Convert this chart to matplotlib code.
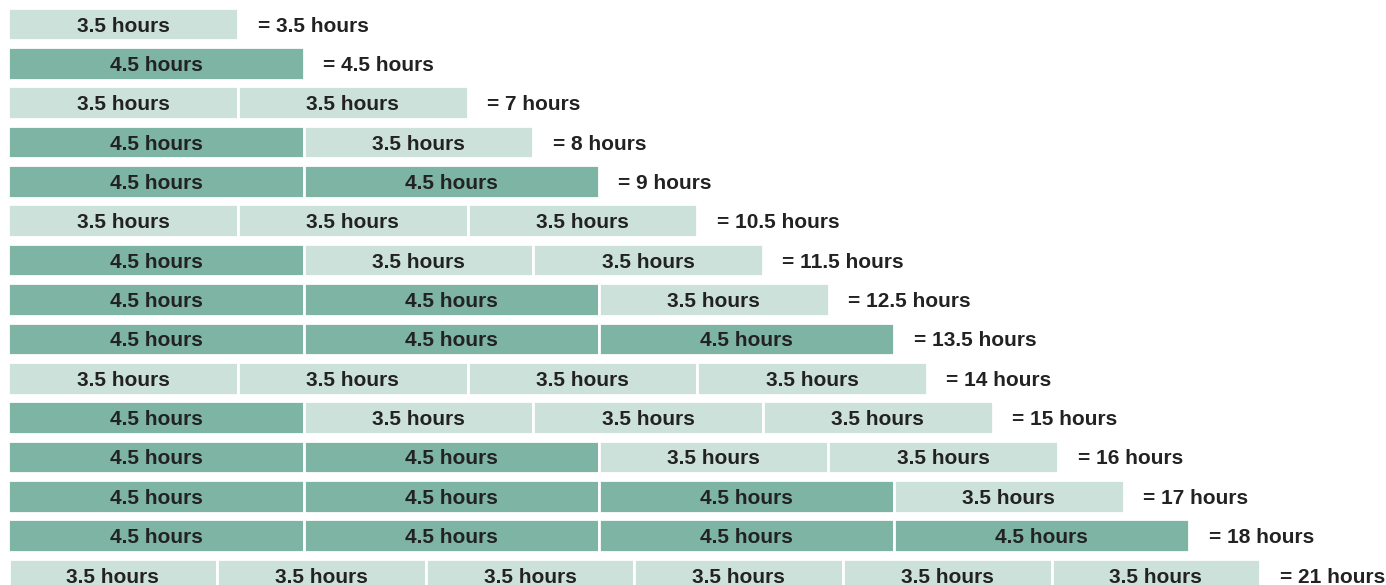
import matplotlib
matplotlib.use("Agg")
import matplotlib.pyplot as plt

plt.rcParams.update({"font.family": ["Liberation Sans", "DejaVu Sans"]})

LIGHT = "#cce1d9"; DARK = "#7db4a3"; INK = "#222222"

# each row: the sessions that add up to the total
segments = [
    [3.5],
    [4.5],
    [3.5, 3.5],
    [4.5, 3.5],
    [4.5, 4.5],
    [3.5, 3.5, 3.5],
    [4.5, 3.5, 3.5],
    [4.5, 4.5, 3.5],
    [4.5, 4.5, 4.5],
    [3.5, 3.5, 3.5, 3.5],
    [4.5, 3.5, 3.5, 3.5],
    [4.5, 4.5, 3.5, 3.5],
    [4.5, 4.5, 4.5, 3.5],
    [4.5, 4.5, 4.5, 4.5],
    [3.5, 3.5, 3.5, 3.5, 3.5, 3.5],
]

W, H = 1386, 585
fig = plt.figure(figsize=(W / 100, H / 100), dpi=100)

pitch = 39.36            # px per row
y0 = 24                  # centre of first row, px
ylim = ((H - y0) / pitch, -y0 / pitch)


def make_ax(px_per_hr):
    ax = fig.add_axes([0, 0, 1, 1])
    ax.set_xlim(-8.5 / px_per_hr, (W - 8.5) / px_per_hr)
    ax.set_ylim(*ylim)
    ax.axis("off")
    ax.patch.set_alpha(0)
    return ax


ax_main = make_ax(65.6)
ax_last = make_ax(59.6)   # the 21-hour row is squeezed to fit

for i, segs in enumerate(segments):
    ax = ax_last if i == len(segments) - 1 else ax_main
    left = 0
    for s in segs:
        col = DARK if s == 4.5 else LIGHT
        ax.barh(i, s, left=left, height=0.83, color=col, edgecolor="white", linewidth=2)
        ax.text(left + s / 2, i, f"{s:g} hours", ha="center", va="center_baseline",
                fontsize=15, weight="bold", color=INK)
        left += s
    ax.annotate(f"= {sum(segs):g} hours", (left, i), xytext=(14, 0), textcoords="offset points",
                ha="left", va="center_baseline", fontsize=15, weight="bold", color=INK)

fig.savefig("out.png", dpi=100)
